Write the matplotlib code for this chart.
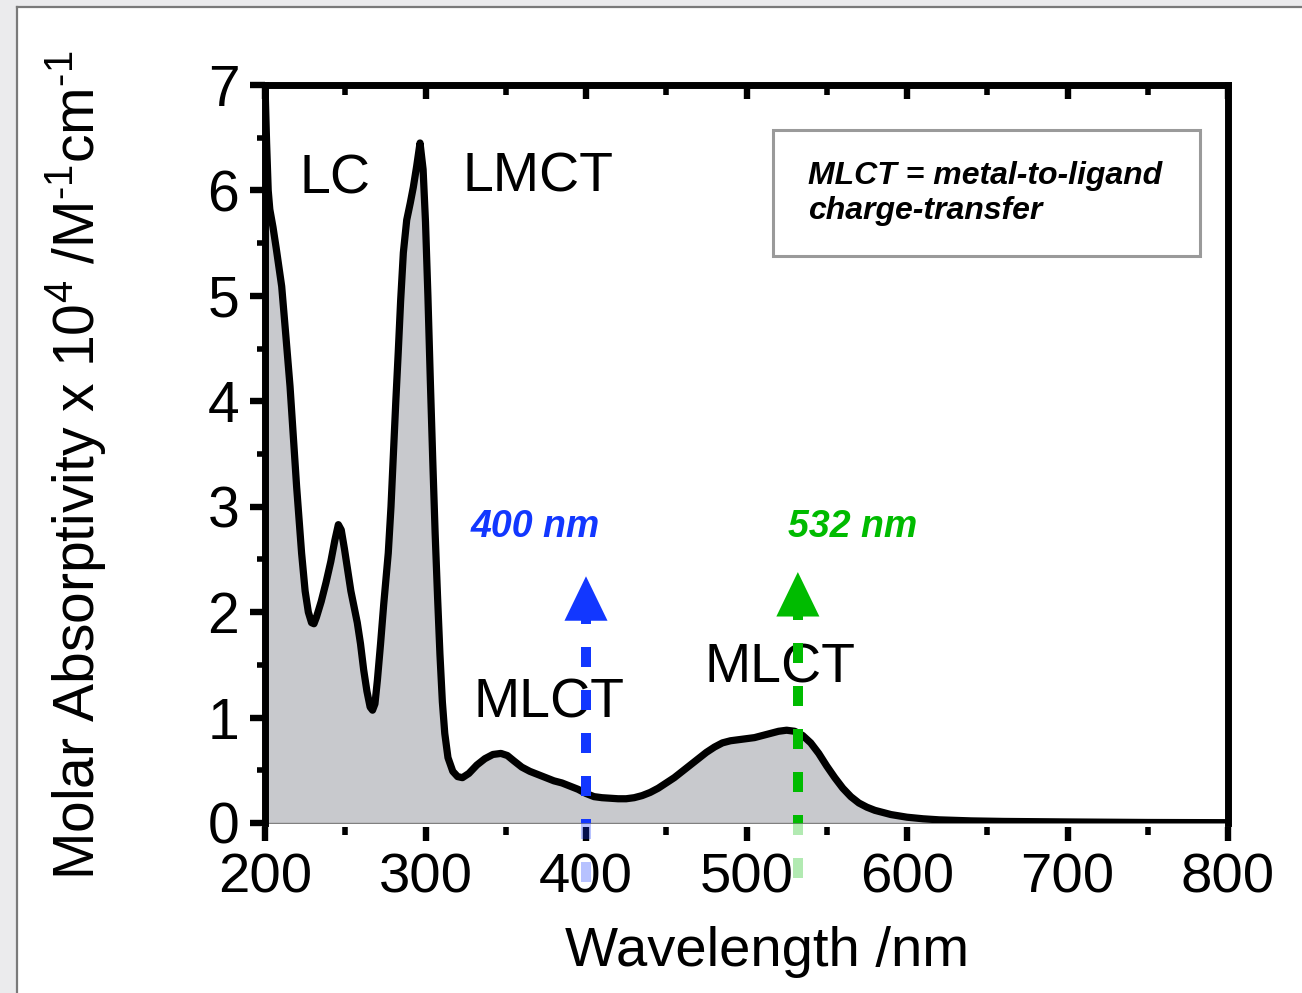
import matplotlib
matplotlib.use("Agg")
import matplotlib.pyplot as plt
from matplotlib.patches import Rectangle
from matplotlib.ticker import MultipleLocator

plt.rcParams['font.family'] = ['Liberation Sans', 'DejaVu Sans']
plt.rcParams['mathtext.fontset'] = 'custom'
plt.rcParams['mathtext.rm'] = 'Liberation Sans'
plt.rcParams['mathtext.it'] = 'Liberation Sans:italic'

# Absorption spectrum (wavelength in nm, molar absorptivity in 1e4 M^-1 cm^-1)
wavelength = [200, 201, 202, 203, 205, 207, 210.4, 213, 215.6, 217.5, 219.7,
              222.8, 225, 227, 229, 230.5, 232, 235, 238, 241, 243.5, 245.7,
              247.5, 249.5, 251.5, 253.5, 255.5, 257.5, 259.5, 261.5, 263.5,
              265.5, 267, 268.5, 270, 272, 274, 276.8, 278.5, 280, 281.5, 283,
              284.5, 286.2, 288.3, 290.5, 292.4, 294.5, 296.6, 298.5, 300,
              301.5, 303, 304.5, 306, 307.5, 309, 310.5, 312, 314, 317, 320,
              323, 327, 332, 337, 342, 347, 351, 355, 360, 365, 370, 375, 380,
              385, 390, 395, 400, 405, 410, 415, 420, 425, 430, 435, 440, 445,
              450, 455, 460, 465, 470, 475, 480, 485, 490, 495, 500, 505, 510,
              515, 520, 525, 530, 535, 540, 545, 550, 555, 560, 565, 570, 575,
              580, 585, 590, 600, 610, 620, 640, 660, 700, 750, 800]
absorptivity = [7.00, 6.45, 6.00, 5.82, 5.65, 5.45, 5.09, 4.62, 4.14, 3.70, 3.19,
                2.56, 2.20, 2.00, 1.90, 1.89, 1.95, 2.10, 2.28, 2.48, 2.68, 2.83,
                2.78, 2.60, 2.40, 2.20, 2.05, 1.90, 1.70, 1.45, 1.25,
                1.10, 1.07, 1.13, 1.35, 1.70, 2.08, 2.56, 3.00, 3.50, 4.00, 4.46,
                4.95, 5.41, 5.72, 5.88, 6.03, 6.23, 6.45, 6.20, 5.70,
                5.00, 4.20, 3.45, 2.75, 2.15, 1.60, 1.15, 0.85, 0.62, 0.49, 0.44,
                0.43, 0.47, 0.55, 0.61, 0.65, 0.66, 0.64, 0.59, 0.53, 0.49, 0.46, 0.43, 0.40,
                0.38, 0.35, 0.32, 0.28, 0.25, 0.24, 0.235, 0.23, 0.23, 0.24, 0.26, 0.29, 0.33,
                0.38, 0.43, 0.49, 0.55, 0.61, 0.67, 0.72, 0.76, 0.78, 0.79, 0.80, 0.81, 0.83,
                0.85, 0.87, 0.88, 0.87, 0.83, 0.76, 0.66, 0.54, 0.43, 0.33, 0.25, 0.19, 0.15,
                0.12, 0.10, 0.08, 0.055, 0.04, 0.03, 0.02, 0.015, 0.01, 0.005, 0.003]

# Band assignments and the centres of their labels
band_labels = ['LC', 'LMCT', 'MLCT', 'MLCT']
band_x = [243.6, 370.1, 377.0, 520.9]
band_y = [6.10, 6.12, 1.13, 1.47]

# Excitation wavelengths
laser_nm = [400, 532]
laser_colors = ['#1237ff', '#00bb00']
laser_tip = [2.34, 2.38]
laser_text_x = [368.2, 566.4]
laser_text_y = 2.81

W, H = 1302, 993
fig = plt.figure(figsize=(W / 100, H / 100), dpi=100)
fig.patch.set_facecolor('white')

# Window frame along the top and left edges
fig.patches.append(Rectangle((0, 0), 16 / W, 1, transform=fig.transFigure,
                             facecolor='#ebebed', edgecolor='none', zorder=-5))
fig.patches.append(Rectangle((0, 1 - 6 / H), 1, 6 / H, transform=fig.transFigure,
                             facecolor='#ebebed', edgecolor='none', zorder=-5))
fig.add_artist(plt.Line2D([16.5 / W, 16.5 / W], [0, 1 - 6.5 / H], transform=fig.transFigure,
                          color='#7a7a7a', lw=1.6))
fig.add_artist(plt.Line2D([16.5 / W, 1], [1 - 6.5 / H, 1 - 6.5 / H], transform=fig.transFigure,
                          color='#7a7a7a', lw=1.6))

ax = fig.add_axes([265 / W, 1 - 823 / H, (1228 - 265) / W, (823 - 85) / H])
ax.set_xlim(200, 800)
ax.set_ylim(0, 7)

ax.fill_between(wavelength, absorptivity, 0, facecolor='#c8c9cd',
                edgecolor='#808080', linewidth=1.0, zorder=1)
ax.plot(wavelength, absorptivity, color='black', lw=5.2,
        solid_joinstyle='round', solid_capstyle='round', zorder=3)

# Spines
for side in ['left', 'top', 'right']:
    ax.spines[side].set_linewidth(5.0)
    ax.spines[side].set_zorder(4)
ax.spines['bottom'].set_visible(False)
ax.spines['bottom'].set_position(('outward', 3))

ax.xaxis.set_major_locator(MultipleLocator(100))
ax.xaxis.set_minor_locator(MultipleLocator(50))
ax.yaxis.set_major_locator(MultipleLocator(1))
ax.yaxis.set_minor_locator(MultipleLocator(0.5))
ax.tick_params(axis='x', which='major', direction='out', length=10, width=4.6,
               labelsize=40.5, pad=8, top=False)
ax.tick_params(axis='x', which='minor', direction='out', length=5.5, width=4.0, top=False)
ax.tick_params(axis='y', which='major', direction='out', length=10.5, width=4.6,
               labelsize=41, pad=8, right=False)
ax.tick_params(axis='y', which='minor', direction='out', length=6, width=4.0, right=False)

top = ax.secondary_xaxis('top')
top.xaxis.set_major_locator(MultipleLocator(100))
top.xaxis.set_minor_locator(MultipleLocator(50))
top.tick_params(which='major', direction='in', length=10, width=4.6, labeltop=False)
top.tick_params(which='minor', direction='in', length=7.5, width=4.0)
top.spines['top'].set_visible(False)

ax.set_xlabel('Wavelength /nm', fontsize=40.5)
ax.xaxis.set_label_coords((767 - 265) / 963, (823 - 926) / 738)
ax.set_ylabel(r'Molar Absorptivity x 10$^4$ /M$^{\text{-}1}$cm$^{\text{-}1}$', fontsize=41)
ax.yaxis.set_label_coords((108 - 265) / 963, (823 - 465) / 738)

for lab, x, y in zip(band_labels, band_x, band_y):
    ax.text(x, y, lab, fontsize=40, ha='center', va='center', zorder=5)

# Excitation arrows
for nm, col, tip, tx in zip(laser_nm, laser_colors, laser_tip, laser_text_x):
    base = tip - 0.41
    shaft = [tip - 2.9, tip - 0.26]
    # faded part below the axis, full colour inside the axes
    ax.plot([nm, nm], shaft, color=col, lw=7.2, ls=(0, (2.0, 2.3)),
            alpha=0.3, clip_on=False, zorder=6)
    ax.plot([nm, nm], shaft, color=col, lw=7.2, ls=(0, (2.0, 2.3)),
            zorder=6)
    ax.annotate('', xy=(nm, tip), xytext=(nm, base),
                arrowprops=dict(arrowstyle='-|>,head_length=3.2,head_width=1.55',
                                mutation_scale=10, lw=0, color=col,
                                shrinkA=0, shrinkB=0), zorder=7)
    ax.text(tx, laser_text_y, f'{nm} nm', color=col, fontsize=27,
            fontweight='bold', fontstyle='italic', ha='center', va='center',
            family=['Liberation Sans Narrow', 'Liberation Sans', 'DejaVu Sans'],
            zorder=7)

# Abbreviation note
ax.add_patch(Rectangle((0.5275, 0.768), 0.4435, 0.171, transform=ax.transAxes,
                       facecolor='white', edgecolor='#9a9a9a', lw=2.2, zorder=5))
ax.text(0.564, 0.853, 'MLCT = metal-to-ligand\ncharge-transfer', transform=ax.transAxes,
        fontsize=23, fontweight='bold', fontstyle='italic', ha='left', va='center',
        linespacing=1.2,
        family=['Liberation Sans Narrow', 'Liberation Sans', 'DejaVu Sans'], zorder=6)

fig.savefig('out.png', dpi=100)
